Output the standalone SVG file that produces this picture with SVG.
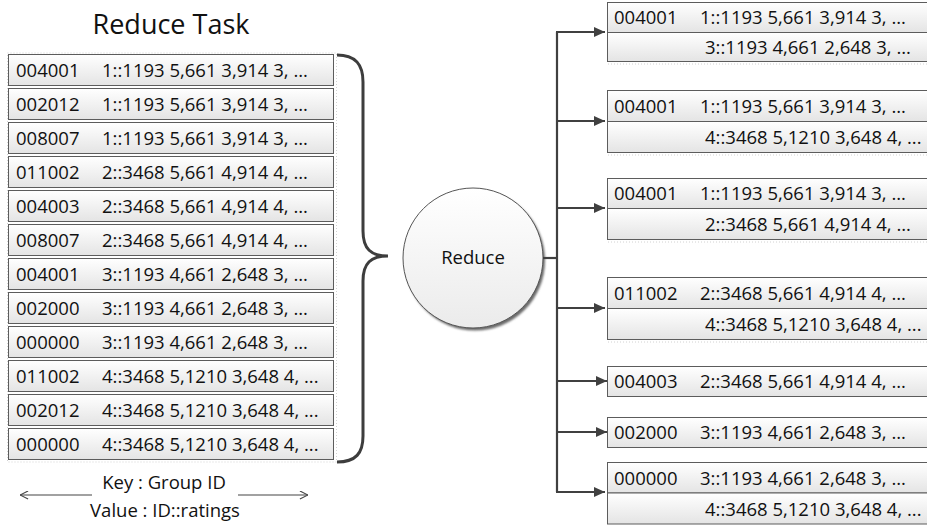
<svg xmlns="http://www.w3.org/2000/svg" width="927" height="525" viewBox="0 0 927 525">
  <style>
    text { font-family: "Open Sans", "Noto Sans", "Liberation Sans", sans-serif; fill: #111; }
    .t { font-size: 18.5px; }
    .title { font-size: 27px; }
    .cell { fill: url(#cellFill); stroke: #5c5c5c; stroke-width: 1; }
    .dots { fill: none; stroke: #d2d2d2; stroke-width: 1; stroke-dasharray: 1 2; }
    .wire { fill: none; stroke: #404040; stroke-width: 2.2; }
    .brace { fill: none; stroke: #3d3d3d; stroke-width: 3; }
    .thin { fill: none; stroke: #444; stroke-width: 1.2; }
  </style>
  <defs>
    <linearGradient id="cellFill" x1="0" y1="0" x2="0" y2="1">
      <stop offset="0" stop-color="#ffffff"/>
      <stop offset="1" stop-color="#e4e4e4"/>
    </linearGradient>
    <linearGradient id="ballFill" x1="0" y1="0" x2="0" y2="1">
      <stop offset="0" stop-color="#ffffff"/>
      <stop offset="1" stop-color="#ebebeb"/>
    </linearGradient>
    <filter id="soft" x="-10%" y="-10%" width="120%" height="120%">
      <feGaussianBlur stdDeviation="1.2"/>
    </filter>
    <marker id="head" viewBox="0 0 10 10" refX="10" refY="5" markerWidth="11" markerHeight="11" markerUnits="userSpaceOnUse" orient="auto">
      <path d="M0,0.5 L10,5 L0,9.5 Z" fill="#404040"/>
    </marker>
    <marker id="open" viewBox="0 0 10 10" refX="10" refY="5" markerWidth="9" markerHeight="9" markerUnits="userSpaceOnUse" orient="auto">
      <path d="M1,0.5 L10,5 L1,9.5" fill="none" stroke="#444" stroke-width="1.2"/>
    </marker>
  </defs>

  <rect width="927" height="525" fill="#ffffff"/>

  <!-- input records of the reduce task -->
  <g id="reduce-task">
    <text class="title" x="171" y="34" text-anchor="middle">Reduce Task</text>
    <rect class="dots" x="7.5" y="53" width="329" height="409"/>
    <g id="in-1"><rect class="cell" x="8.5" y="54.5" width="325" height="31"/><text class="t" x="16" y="76.5">004001</text><text class="t" x="102" y="76.5">1::1193 5,661 3,914 3, ...</text></g>
    <g id="in-2"><rect class="cell" x="8.5" y="88.5" width="325" height="31"/><text class="t" x="16" y="110.5">002012</text><text class="t" x="102" y="110.5">1::1193 5,661 3,914 3, ...</text></g>
    <g id="in-3"><rect class="cell" x="8.5" y="122.5" width="325" height="31"/><text class="t" x="16" y="144.5">008007</text><text class="t" x="102" y="144.5">1::1193 5,661 3,914 3, ...</text></g>
    <g id="in-4"><rect class="cell" x="8.5" y="156.5" width="325" height="31"/><text class="t" x="16" y="178.5">011002</text><text class="t" x="102" y="178.5">2::3468 5,661 4,914 4, ...</text></g>
    <g id="in-5"><rect class="cell" x="8.5" y="190.5" width="325" height="31"/><text class="t" x="16" y="212.5">004003</text><text class="t" x="102" y="212.5">2::3468 5,661 4,914 4, ...</text></g>
    <g id="in-6"><rect class="cell" x="8.5" y="224.5" width="325" height="31"/><text class="t" x="16" y="246.5">008007</text><text class="t" x="102" y="246.5">2::3468 5,661 4,914 4, ...</text></g>
    <g id="in-7"><rect class="cell" x="8.5" y="258.5" width="325" height="31"/><text class="t" x="16" y="280.5">004001</text><text class="t" x="102" y="280.5">3::1193 4,661 2,648 3, ...</text></g>
    <g id="in-8"><rect class="cell" x="8.5" y="292.5" width="325" height="31"/><text class="t" x="16" y="314.5">002000</text><text class="t" x="102" y="314.5">3::1193 4,661 2,648 3, ...</text></g>
    <g id="in-9"><rect class="cell" x="8.5" y="326.5" width="325" height="31"/><text class="t" x="16" y="348.5">000000</text><text class="t" x="102" y="348.5">3::1193 4,661 2,648 3, ...</text></g>
    <g id="in-10"><rect class="cell" x="8.5" y="360.5" width="325" height="31"/><text class="t" x="16" y="382.5">011002</text><text class="t" x="102" y="382.5">4::3468 5,1210 3,648 4, ...</text></g>
    <g id="in-11"><rect class="cell" x="8.5" y="394.5" width="325" height="31"/><text class="t" x="16" y="416.5">002012</text><text class="t" x="102" y="416.5">4::3468 5,1210 3,648 4, ...</text></g>
    <g id="in-12"><rect class="cell" x="8.5" y="428.5" width="325" height="31"/><text class="t" x="16" y="450.5">000000</text><text class="t" x="102" y="450.5">4::3468 5,1210 3,648 4, ...</text></g>
  </g>

  <!-- key / value legend -->
  <g id="legend">
    <text class="t" x="164" y="489" text-anchor="middle">Key : Group ID</text>
    <text class="t" x="165" y="517" text-anchor="middle">Value : ID::ratings</text>
    <line class="thin" x1="92" y1="495" x2="20" y2="495" marker-end="url(#open)"/>
    <line class="thin" x1="238" y1="495" x2="308" y2="495" marker-end="url(#open)"/>
  </g>

  <!-- reduce step -->
  <g id="reduce">
    <circle cx="475" cy="260.5" r="70" fill="#6a6a6a" filter="url(#soft)"/>
    <circle cx="473" cy="258" r="70" fill="url(#ballFill)" stroke="#555" stroke-width="1"/>
    <text class="t" x="473" y="264" text-anchor="middle">Reduce</text>
  </g>

  <!-- output groups -->
  <g id="out-1">
    <rect class="cell" x="607.5" y="2.5" width="325" height="30"/>
    <rect class="cell" x="607.5" y="32.5" width="325" height="29"/>
    <line class="dots" x1="608" y1="64" x2="927" y2="64"/>
    <text class="t" x="614" y="23.5">004001</text><text class="t" x="700" y="23.5">1::1193 5,661 3,914 3, ...</text>
    <text class="t" x="705" y="53.5">3::1193 4,661 2,648 3, ...</text>
  </g>
  <g id="out-2">
    <rect class="cell" x="607.5" y="90.5" width="325" height="31"/>
    <rect class="cell" x="607.5" y="121.5" width="325" height="31"/>
    <line class="dots" x1="608" y1="155" x2="927" y2="155"/>
    <text class="t" x="614" y="112.5">004001</text><text class="t" x="700" y="112.5">1::1193 5,661 3,914 3, ...</text>
    <text class="t" x="705" y="143.5">4::3468 5,1210 3,648 4, ...</text>
  </g>
  <g id="out-3">
    <rect class="cell" x="607.5" y="178.5" width="325" height="30"/>
    <rect class="cell" x="607.5" y="208.5" width="325" height="31"/>
    <line class="dots" x1="608" y1="242" x2="927" y2="242"/>
    <text class="t" x="614" y="199.5">004001</text><text class="t" x="700" y="199.5">1::1193 5,661 3,914 3, ...</text>
    <text class="t" x="705" y="230.5">2::3468 5,661 4,914 4, ...</text>
  </g>
  <g id="out-4">
    <rect class="cell" x="607.5" y="277.5" width="325" height="31"/>
    <rect class="cell" x="607.5" y="308.5" width="325" height="31"/>
    <line class="dots" x1="608" y1="342" x2="927" y2="342"/>
    <text class="t" x="614" y="299.5">011002</text><text class="t" x="700" y="299.5">2::3468 5,661 4,914 4, ...</text>
    <text class="t" x="705" y="330.5">4::3468 5,1210 3,648 4, ...</text>
  </g>
  <g id="out-5">
    <rect class="cell" x="607.5" y="366.5" width="325" height="30"/>
    <text class="t" x="614" y="387.5">004003</text><text class="t" x="700" y="387.5">2::3468 5,661 4,914 4, ...</text>
  </g>
  <g id="out-6">
    <rect class="cell" x="607.5" y="417.5" width="325" height="30"/>
    <text class="t" x="614" y="438.5">002000</text><text class="t" x="700" y="438.5">3::1193 4,661 2,648 3, ...</text>
  </g>
  <g id="out-7">
    <rect class="cell" x="607.5" y="462.5" width="325" height="30.5"/>
    <rect class="cell" x="607.5" y="493" width="325" height="31"/>
    <text class="t" x="614" y="484.5">000000</text><text class="t" x="700" y="484.5">3::1193 4,661 2,648 3, ...</text>
    <text class="t" x="705" y="515.5">4::3468 5,1210 3,648 4, ...</text>
  </g>

  <!-- connectors -->
  <g id="connectors">
    <path class="brace" d="M337,55 C356,55 363,65 363,82 L363,231 C363,249 371,256 388,256 C371,256 363,263 363,281 L363,436 C363,453 356,462 337,462"/>
    <path class="wire" d="M543,258 H557"/>
    <path class="wire" d="M557,32 V492"/>
    <line class="wire" x1="556" y1="32" x2="605" y2="32" marker-end="url(#head)"/>
    <line class="wire" x1="556" y1="121" x2="605" y2="121" marker-end="url(#head)"/>
    <line class="wire" x1="556" y1="208" x2="605" y2="208" marker-end="url(#head)"/>
    <line class="wire" x1="556" y1="308" x2="605" y2="308" marker-end="url(#head)"/>
    <line class="wire" x1="556" y1="381" x2="607" y2="381" marker-end="url(#head)"/>
    <line class="wire" x1="556" y1="432" x2="607" y2="432" marker-end="url(#head)"/>
    <line class="wire" x1="556" y1="492" x2="605" y2="492" marker-end="url(#head)"/>
  </g>
</svg>
